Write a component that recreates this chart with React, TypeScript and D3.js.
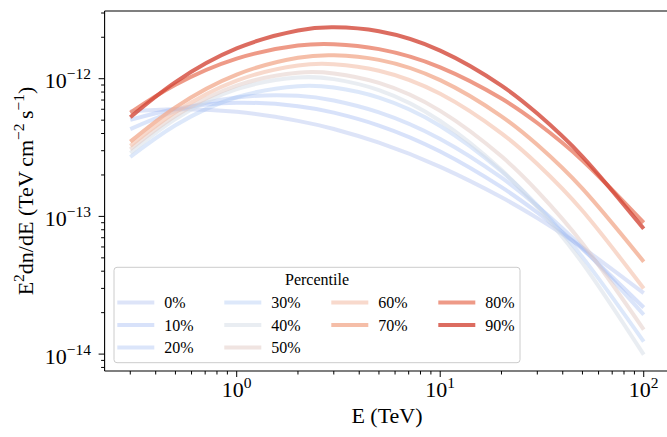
import React from "react";
import * as d3 from "d3";

const energies = [0.3, 0.5, 1, 2, 3, 5, 10, 20, 30, 50, 100];

const percentiles = ["0%", "10%", "20%", "30%", "40%", "50%", "60%", "70%", "80%", "90%"];

// E^2 dN/dE values (TeV cm^-2 s^-1) per percentile
const p0 = [5.77e-13, 5.99e-13, 5.75e-13, 4.94e-13, 4.31e-13, 3.43e-13, 2.29e-13, 1.377e-13, 9.71e-14, 5.93e-14, 2.77e-14];
const p10 = [5.02e-13, 6.02e-13, 6.69e-13, 6.32e-13, 5.67e-13, 4.57e-13, 2.96e-13, 1.63e-13, 1.067e-13, 5.78e-14, 2.18e-14];
const p20 = [4.3e-13, 5.81e-13, 7.31e-13, 7.52e-13, 6.95e-13, 5.7e-13, 3.65e-13, 1.91e-13, 1.188e-13, 5.92e-14, 1.93e-14];
const p30 = [2.7e-13, 4.59e-13, 7.33e-13, 8.82e-13, 8.62e-13, 7.29e-13, 4.54e-13, 2.13e-13, 1.2e-13, 5.06e-14, 1.23e-14];
const p40 = [2.89e-13, 5.09e-13, 8.39e-13, 1.02e-12, 9.93e-13, 8.26e-13, 4.93e-13, 2.17e-13, 1.165e-13, 4.58e-14, 9.91e-15];
const p50 = [3.07e-13, 5.38e-13, 8.92e-13, 1.104e-12, 1.091e-12, 9.32e-13, 5.84e-13, 2.73e-13, 1.528e-13, 6.37e-14, 1.508e-14];
const p60 = [3.25e-13, 5.72e-13, 9.7e-13, 1.248e-12, 1.275e-12, 1.143e-12, 7.77e-13, 4.01e-13, 2.4e-13, 1.098e-13, 2.995e-14];
const p70 = [3.49e-13, 6.2e-13, 1.072e-12, 1.42e-12, 1.48e-12, 1.37e-12, 9.76e-13, 5.33e-13, 3.31e-13, 1.59e-13, 4.69e-14];
const p80 = [5.67e-13, 9.03e-13, 1.4e-12, 1.74e-12, 1.78e-12, 1.64e-12, 1.21e-12, 7.18e-13, 4.77e-13, 2.55e-13, 9.0e-14];
const p90 = [5.25e-13, 9.45e-13, 1.66e-12, 2.24e-12, 2.36e-12, 2.21e-12, 1.6e-12, 8.91e-13, 5.58e-13, 2.72e-13, 8.12e-14];

const series = [p0, p10, p20, p30, p40, p50, p60, p70, p80, p90];

const colors = [
  "rgb(158,178,235)",
  "rgb(144,172,241)",
  "rgb(152,181,241)",
  "rgb(158,189,241)",
  "rgb(211,219,229)",
  "rgb(225,201,195)",
  "rgb(243,192,170)",
  "rgb(242,174,146)",
  "rgb(234,129,105)",
  "rgb(211,71,56)",
];
const alphas = [0.35, 0.35, 0.35, 0.35, 0.5, 0.5, 0.6, 0.8, 0.8, 0.8];

const xMajor = [1, 10, 100];
const yMajor = [1e-12, 1e-13, 1e-14];

const W = 667;
const H = 437;
const FONT = "'Liberation Serif', 'Times New Roman', Times, serif";

function marginDomain(lo: number, hi: number): [number, number] {
  const a = Math.log10(lo);
  const b = Math.log10(hi);
  const m = (b - a) * 0.05;
  return [Math.pow(10, a - m), Math.pow(10, b + m)];
}

export default function App() {
  const left = 104.6;
  const right = 669.4;
  const top = 11;
  const bottom = 371;

  const xExt = d3.extent(energies) as [number, number];
  const allY = series.flat();
  const yExt = d3.extent(allY) as [number, number];

  const x = d3.scaleLog().domain(marginDomain(xExt[0], xExt[1])).range([left, right]);
  const y = d3.scaleLog().domain(marginDomain(yExt[0], yExt[1])).range([bottom, top]);

  const line = d3
    .line<number>()
    .x((_, i) => x(energies[i]))
    .y((d) => y(d))
    .curve(d3.curveNatural);

  const xTicks = x.ticks().filter((t) => x(t) >= left - 0.5 && x(t) <= W);
  const yTicks = y.ticks().filter((t) => y(t) >= top - 0.5 && y(t) <= bottom + 0.5);
  const isMajor = (t: number) => Math.abs(Math.log10(t) - Math.round(Math.log10(t))) < 1e-6;

  // legend layout
  const lgX = 114;
  const lgY = 267.3;
  const lgW = 406;
  const lgH = 95.4;
  const colW = 107;
  const rowH = 22.5;

  return (
    <svg
      width={W}
      height={H}
      style={{ position: "absolute", left: 0, top: 0, display: "block", background: "#fff" }}
      fontFamily={FONT}
    >
      <rect x={0} y={0} width={W} height={H} fill="#fff" />
      {/* curves */}
      <g fill="none">
        {series.map((s, i) => (
          <path
            key={percentiles[i]}
            d={line(s) || ""}
            stroke={colors[i]}
            strokeOpacity={alphas[i]}
            strokeWidth={4}
            strokeLinecap="butt"
          />
        ))}
      </g>

      {/* spines */}
      <g stroke="#000" strokeWidth={1.1} fill="none">
        <line x1={left} x2={left} y1={top} y2={bottom} />
        <line x1={left} x2={right} y1={bottom} y2={bottom} />
        <line x1={left} x2={right} y1={top} y2={top} />
        <line x1={right} x2={right} y1={top} y2={bottom} />
      </g>

      {/* x ticks */}
      <g stroke="#000" strokeWidth={1}>
        {xTicks.map((t, i) => (
          <line key={"xt" + i} x1={x(t)} x2={x(t)} y1={bottom} y2={bottom + (isMajor(t) ? 6 : 3.5)} />
        ))}
      </g>
      <g fontSize={22} textAnchor="middle" fill="#000">
        {xMajor.map((t) => (
          <text key={"xl" + t} x={x(t)} y={397}>
            <tspan>10</tspan>
            <tspan dy={-9} fontSize={15.5}>
              {String(Math.round(Math.log10(t)))}
            </tspan>
          </text>
        ))}
      </g>

      {/* y ticks */}
      <g stroke="#000" strokeWidth={1}>
        {yTicks.map((t, i) => (
          <line key={"yt" + i} x1={left - (isMajor(t) ? 6 : 3.5)} x2={left} y1={y(t)} y2={y(t)} />
        ))}
      </g>
      <g fontSize={22} textAnchor="end" fill="#000">
        {yMajor.map((t) => (
          <text key={"yl" + t} x={91} y={y(t) + 9.5}>
            <tspan>10</tspan>
            <tspan dy={-9} fontSize={15.5}>
              {"\u2212" + String(Math.abs(Math.round(Math.log10(t))))}
            </tspan>
          </text>
        ))}
      </g>

      {/* axis labels */}
      <text x={(left + right) / 2} y={423} fontSize={22} textAnchor="middle" fill="#000">
        E (TeV)
      </text>
      <text
        transform={`translate(33, ${(top + bottom) / 2}) rotate(-90)`}
        fontSize={22}
        textAnchor="middle"
        fill="#000"
      >
        <tspan>E</tspan>
        <tspan dy={-9} fontSize={15.5}>2</tspan>
        <tspan dy={9}>dn/dE (TeV{"\u2009"}cm</tspan>
        <tspan dy={-9} fontSize={15.5}>{"\u22122"}</tspan>
        <tspan dy={9}>{"\u2009"}s</tspan>
        <tspan dy={-9} fontSize={15.5}>{"\u22121"}</tspan>
        <tspan dy={9}>)</tspan>
      </text>

      {/* legend */}
      <g>
        <rect
          x={lgX}
          y={lgY}
          width={lgW}
          height={lgH}
          rx={3}
          ry={3}
          fill="#fff"
          fillOpacity={0.8}
          stroke="#cccccc"
          strokeWidth={1}
        />
        <text x={lgX + lgW / 2} y={285} fontSize={16} textAnchor="middle" fill="#000">
          Percentile
        </text>
        {percentiles.map((p, i) => {
          const col = Math.floor(i / 3) - (i >= 9 ? 1 : 0);
          const row = i >= 9 ? 1 : i % 3;
          const c = i < 6 ? Math.floor(i / 3) : i < 8 ? 2 : 3;
          const r = i < 6 ? i % 3 : i < 8 ? i - 6 : i - 8;
          void col;
          void row;
          const hx = lgX + 3.3 + c * colW;
          const cy = 302.5 + r * rowH;
          return (
            <g key={"lg" + p}>
              <line
                x1={hx}
                x2={hx + 37}
                y1={cy}
                y2={cy}
                stroke={colors[i]}
                strokeOpacity={alphas[i]}
                strokeWidth={4}
              />
              <text x={hx + 47} y={cy + 5.7} fontSize={16} fill="#000">
                {p}
              </text>
            </g>
          );
        })}
      </g>
    </svg>
  );
}
